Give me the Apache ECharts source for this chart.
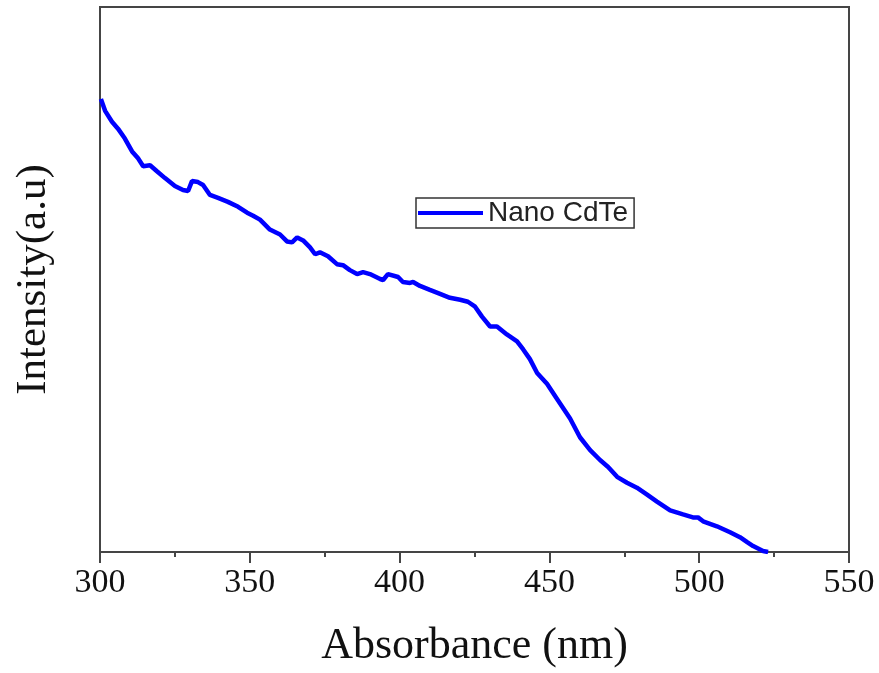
<!DOCTYPE html>
<html>
<head>
<meta charset="utf-8">
<script src="https://cdn.jsdelivr.net/npm/echarts@6/dist/echarts.min.js"></script>
<style>html,body{margin:0;padding:0;background:#fff;}#c{width:879px;height:673px;}</style>
</head>
<body>
<div id="c"></div>
<script>
const seriesName = 'Nano CdTe';
const xTicks = [300, 350, 400, 450, 500, 550];
const wavelength = [300.3,301.7,304.0,306.0,308.3,310.7,312.7,314.4,316.7,319.0,321.7,325.0,327.7,329.4,330.7,332.7,334.4,336.7,339.4,342.7,346.1,349.1,351.1,353.4,354.4,356.7,360.1,362.4,364.1,365.8,367.8,370.1,371.8,373.4,376.1,379.1,381.1,383.4,385.8,387.8,390.1,393.5,394.5,396.1,399.5,401.1,403.5,404.5,406.8,410.1,413.5,416.8,420.2,422.8,425.2,427.5,430.2,432.5,435.8,439.2,441.2,443.5,445.9,449.2,452.5,456.9,460.2,463.6,466.9,469.6,472.6,475.9,479.2,482.6,485.9,490.3,494.6,497.9,499.6,501.3,505.9,510.3,513.6,516.0,518.0,521.3,523.0];
const intensity = [458,446,435,428,418,405,398,390,391,385,378,370,366,365,375,374,371,361,358,354,349,343,340,336,333,326,321,314,313,318,315,308,301,303,299,291,290,285,281,283,281,276,275,281,278,273,272,273,269,265,261,257,255,253,248,238,228,228,220,213,205,195,181,170,155,135,116,103,93,86,76,70,65,58,51,42,38,35,35,31,26,20,15,10,6,1,0];

const data = wavelength.map((w, i) => [w, intensity[i]]);
const axisColor = '#454545';
const chart = echarts.init(document.getElementById('c'));
chart.setOption({
  animation: false,
  backgroundColor: '#fff',
  grid: { left: 100, right: 30, top: 7, height: 551, show: true, borderColor: axisColor, borderWidth: 2 },
  legend: {
    data: [seriesName], left: 416, top: 198,
    icon: 'rect', itemWidth: 65, itemHeight: 4,
    borderColor: '#333', borderWidth: 1.5, padding: [1, 6, 1, 2],
    textStyle: { fontFamily: 'Liberation Sans, Arial, sans-serif', fontSize: 28, color: '#222', lineHeight: 28 }
  },
  xAxis: {
    type: 'value', min: 300, max: 550, interval: 50,
    name: 'Absorbance (nm)', nameLocation: 'middle', nameGap: 72,
    nameTextStyle: { fontFamily: 'Liberation Serif, Times New Roman, serif', fontSize: 44, color: '#111' },
    axisLine: { show: true, lineStyle: { color: axisColor, width: 2 } },
    axisTick: { show: true, inside: false, length: 11, lineStyle: { color: axisColor, width: 2 } },
    minorTick: { show: true, splitNumber: 2, length: 5, lineStyle: { color: axisColor, width: 2 } },
    axisLabel: { margin: 14, fontFamily: 'Liberation Serif, Times New Roman, serif', fontSize: 34, color: '#111',
      formatter: v => xTicks.includes(v) ? String(v) : '' },
    splitLine: { show: false }
  },
  yAxis: {
    type: 'value', min: 0, max: 551,
    name: 'Intensity(a.u)', nameLocation: 'middle', nameGap: 45,
    nameTextStyle: { fontFamily: 'Liberation Serif, Times New Roman, serif', fontSize: 43, color: '#111' },
    axisLine: { show: true, lineStyle: { color: axisColor, width: 2 } },
    axisTick: { show: false }, axisLabel: { show: false }, splitLine: { show: false }
  },
  series: [{
    name: seriesName, type: 'line', data: data, showSymbol: false, symbol: 'none',
    lineStyle: { color: '#0000ff', width: 4.5 }, itemStyle: { color: '#0000ff' }
  }]
});
</script>
</body>
</html>
